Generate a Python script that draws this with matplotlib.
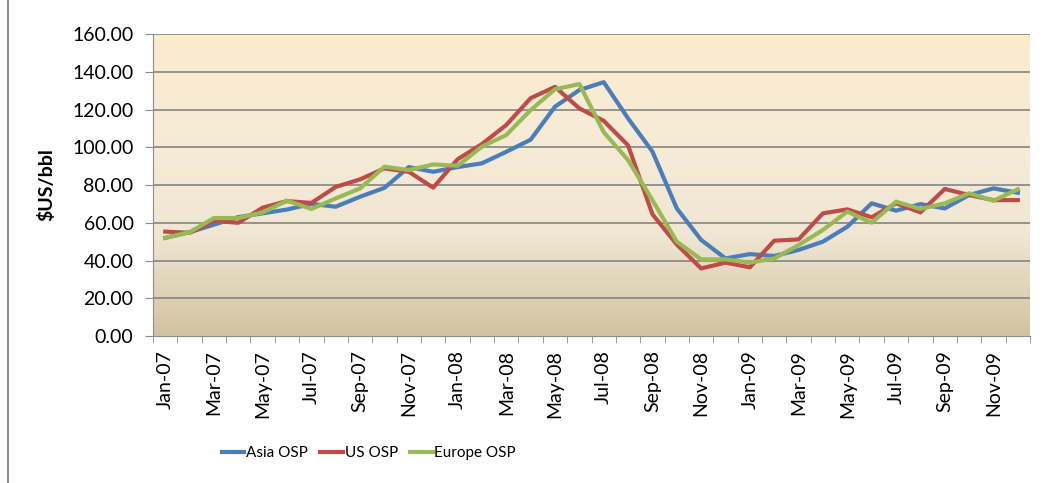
import numpy as np
import matplotlib
matplotlib.use('Agg')
import matplotlib.pyplot as plt
from matplotlib.colors import LinearSegmentedColormap
from matplotlib.lines import Line2D

plt.rcParams['font.family'] = ['Lato', 'DejaVu Sans']

# monthly labels Jan-07 .. Dec-09
months = ['Jan', 'Feb', 'Mar', 'Apr', 'May', 'Jun', 'Jul', 'Aug', 'Sep', 'Oct', 'Nov', 'Dec']
years = ['07', '08', '09']
labels = [m + '-' + y for y in years for m in months]

asia = [52, 55, 59, 63, 65, 67, 70, 68.5, 73.8, 78.5, 89.5, 87,
        89.5, 91.5, 97.6, 104, 121.5, 130.3, 134.5, 115.3, 97.7, 67.6, 50.9, 41.1,
        43.4, 42.4, 45.6, 50, 57.9, 70.3, 66.4, 69.9, 67.6, 74.7, 78.2, 75.9]
us = [55.3, 54.7, 61, 60, 68, 71.5, 70.5, 79, 83, 88.8, 87, 78.6,
      93.6, 101.7, 111.8, 126, 132, 120.6, 114, 101, 64.5, 48.5, 35.8, 38.9,
      36.4, 50.5, 51.2, 65, 67.1, 62.9, 70.3, 65.5, 77.9, 74.7, 72, 72]
europe = [52, 55, 62.5, 62.5, 65.5, 71.7, 67.3, 72.9, 78.2, 89.7, 87.9, 90.9,
          90.2, 100.3, 106.5, 119.7, 130.7, 133.5, 108, 93.2, 72, 50, 40.6, 40.6,
          38.9, 41.1, 48.2, 56.2, 65.9, 60, 71.2, 67.3, 70.3, 75.6, 71.7, 77.7]

x = np.arange(len(labels))

fig = plt.figure(figsize=(10.44, 4.83), dpi=100)
ax = fig.add_axes([0.1466, 0.3043, 0.84, 0.6253])

# gradient background (light peach on top, tan at bottom)
cmap = LinearSegmentedColormap.from_list('bg', ['#d2c29f', '#efe7d3', '#f6ecd6', '#fcebcd'])
grad = np.linspace(0, 1, 256).reshape(-1, 1)
ax.imshow(grad, aspect='auto', cmap=cmap, origin='lower',
          extent=[-0.5, len(labels) - 0.5, 0, 160], zorder=0)

for v in range(20, 161, 20):
    ax.axhline(v, color='#8c8c8c', lw=1.3, zorder=1)

ax.plot(x, asia, color='#4a7ebb', lw=3, label='Asia OSP', zorder=3)
ax.plot(x, us, color='#be4b48', lw=3, label='US OSP', zorder=3)
ax.plot(x, europe, color='#98b954', lw=3, label='Europe OSP', zorder=4)

ax.set_xlim(-0.5, len(labels) - 0.5)
ax.set_ylim(0, 160)
ax.set_yticks(range(0, 161, 20))
ax.set_yticklabels(['%.2f' % v for v in range(0, 161, 20)], fontsize=14)
ax.set_xticks(x[::2])
ax.set_xticklabels(labels[::2], rotation=90, fontsize=14)
ax.set_xticks(np.arange(-0.5, len(labels), 1), minor=True)
ax.tick_params(axis='x', which='major', length=0, pad=10)
ax.tick_params(axis='x', which='minor', length=5, color='#8c8c8c')
ax.tick_params(axis='y', length=6, color='#8c8c8c', pad=8)
ax.set_ylabel('$US/bbl', fontsize=14, fontweight='bold', labelpad=12)

for s in ['top', 'right']:
    ax.spines[s].set_visible(False)
for s in ['left', 'bottom']:
    ax.spines[s].set_color('#8c8c8c')

ax.legend(loc='center', bbox_to_anchor=(0.246, -0.387), ncol=3, frameon=False,
          fontsize=11, handlelength=1.5, handletextpad=0.1, columnspacing=0.8)

# chart frame edge on the left
fig.add_artist(Line2D([0.008, 0.008], [0, 1], transform=fig.transFigure,
                      color='#8c8c8c', lw=1.5))

fig.savefig('out.png', dpi=100)
